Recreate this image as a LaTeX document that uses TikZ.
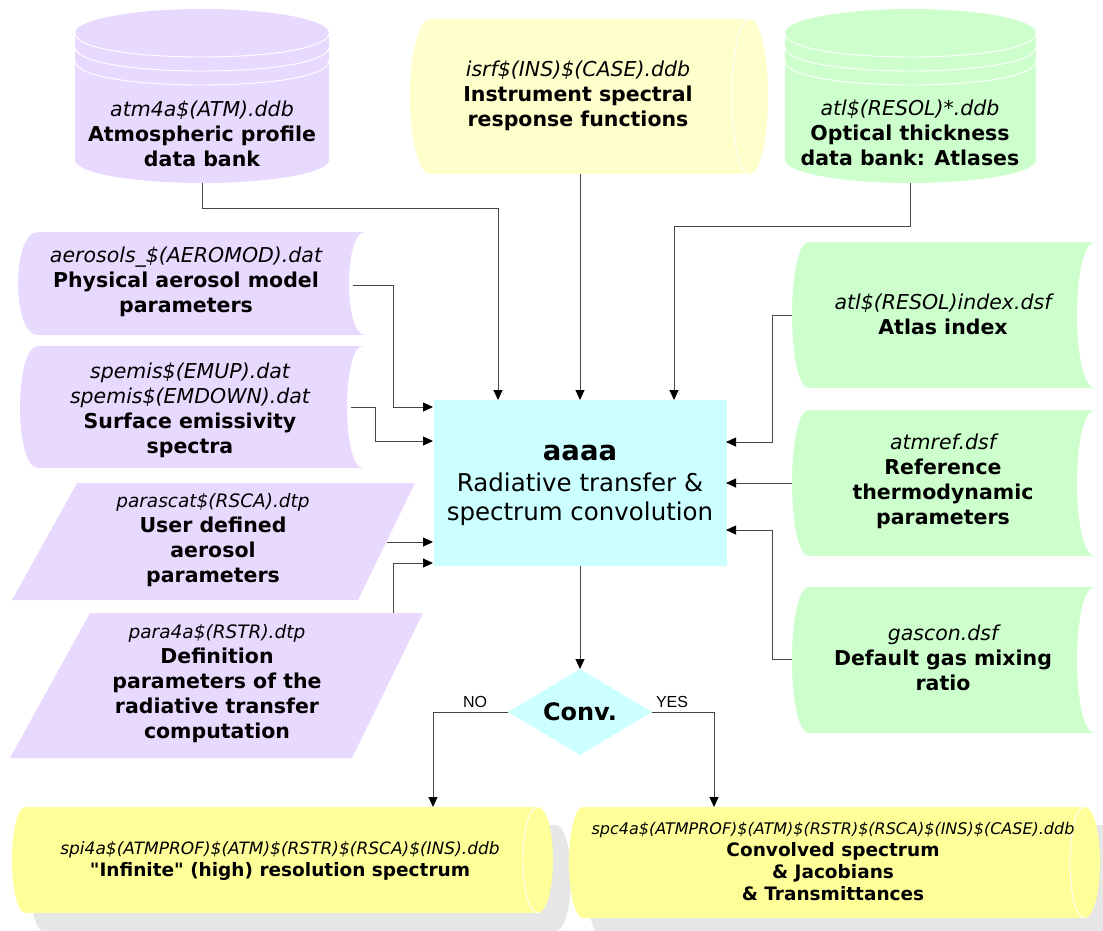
\documentclass[tikz,border=0pt]{standalone}
\usepackage{fontspec}
\setmainfont{DejaVu Sans}[Ligatures=TeXOff]
\newfontfamily\labelfont{Liberation Sans}
\usetikzlibrary{arrows.meta}
\definecolor{lav}{HTML}{E8DAFF}
\definecolor{mint}{HTML}{CCFFCC}
\definecolor{paleyel}{HTML}{FFFFCC}
\definecolor{yel}{HTML}{FFFF99}
\definecolor{cyanbox}{HTML}{CCFFFF}
\definecolor{shadowgray}{HTML}{E6E6E6}
% horizontal cylinder fill: color, xl, xr, ymid, ry, rxl, rxr
\newcommand\hcylfill[7]{%
  \fill[#1] (#2,#4) ellipse[x radius=#6,y radius=#5];
  \fill[#1] (#3,#4) ellipse[x radius=#7,y radius=#5];
  \fill[#1] (#2,#4-#5) rectangle (#3,#4+#5);}
% inner arc on the right end: xr, ymid, ry, rx
\newcommand\hcylline[4]{%
  \draw[cylline] (#1,#2-#3) .. controls ({#1-4/3*#4},#2-#3) and ({#1-4/3*#4},#2+#3) .. (#1,#2+#3);}
% vertical cylinder: color, x1, x2, ytop, ybot, rx
\newcommand\vcylfill[6]{%
  \fill[#1] (#2,#4) rectangle (#3,#5);
  \fill[#1] ({(#2+#3)/2},#4) ellipse[x radius=#6,y radius=24];
  \fill[#1] ({(#2+#3)/2},#5) ellipse[x radius=#6,y radius=23];
  \foreach \yy in {0,14,28}
    \draw[cylline] (#2,#4+\yy) .. controls (#2,#4+\yy+32) and (#3,#4+\yy+32) .. (#3,#4+\yy);}
% stored-data shape: color, xl(corner), xr(corner), ytop, ybot, rxl, rxr
\newcommand\storedfill[7]{%
  \fill[#1] (#2,#4) -- (#3,#4)
    .. controls ({#3-4/3*#7},#4) and ({#3-4/3*#7},#5) .. (#3,#5)
    -- (#2,#5)
    .. controls ({#2-4/3*#6},#5) and ({#2-4/3*#6},#4) .. (#2,#4) -- cycle;}
\newcommand\fileit[2]{{\fontsize{#1}{25}\selectfont\itshape #2}}
\newcommand\boldit[1]{{\fontsize{20.5}{25}\selectfont\bfseries #1}}
\begin{document}
\begin{tikzpicture}[x=1pt,y=-1pt,
  arr/.style={draw=black!72, line width=0.9pt, -{Triangle[length=10pt,width=9pt,color=black]}},
  txt/.style={align=center, inner sep=0pt, font=\fontsize{20.5}{25}\selectfont},
  cylline/.style={draw=white, line width=0.9pt}]
\useasboundingbox (0,0) rectangle (1103,930);

% ---------- shapes ----------
\vcylfill{lav}{75}{329}{33}{160}{127}
\vcylfill{mint}{785}{1036}{33}{160}{125.5}
\hcylfill{paleyel}{430}{750}{96.5}{77.5}{20}{18}
\hcylline{750}{96.5}{77.5}{18}

\storedfill{lav}{38}{365}{232}{335}{20}{16}
\storedfill{lav}{38}{363}{346}{468}{18}{16}
\fill[lav] (77,483) -- (415,483) -- (358,600) -- (12,600) -- cycle;
\fill[lav] (90,613) -- (423,613) -- (352,758) -- (10,758) -- cycle;

\storedfill{mint}{809}{1095}{242}{388}{17}{18}
\storedfill{mint}{809}{1095}{410}{556}{17}{18}
\storedfill{mint}{809}{1095}{587}{733}{17}{18}

\node[fill=cyanbox, minimum width=293pt, minimum height=166pt, inner sep=0pt] (core) at (580,483) {};

\coordinate (convN) at (580,669);
\coordinate (convE) at (652,712);
\coordinate (convS) at (580,755);
\coordinate (convW) at (508,712);
\fill[cyanbox] (convN) -- (convE) -- (convS) -- (convW) -- cycle;

\begin{scope}[shift={(18,18)}]
  \hcylfill{shadowgray}{25}{538}{860}{53}{13}{15}
  \hcylfill{shadowgray}{583}{1085}{862.5}{55.5}{14}{15}
\end{scope}
\hcylfill{yel}{25}{538}{860}{53}{13}{15}
\hcylline{538}{860}{53}{15}
\hcylfill{yel}{583}{1085}{862.5}{55.5}{14}{15}
\hcylline{1085}{862.5}{55.5}{15}

% ---------- texts ----------
\node[txt] (atm) at (202,134) {\fileit{20.5}{atm4a\$(ATM).ddb}\\\boldit{Atmospheric profile}\\\boldit{data bank}};
\node[txt] (isrf) at (578,96) {\fileit{20.5}{isrf\$(INS)\$(CASE).ddb}\\\boldit{Instrument spectral}\\\boldit{response functions}};
\node[txt] (atl) at (910,133) {\fileit{20.5}{atl\$(RESOL)*.ddb}\\\boldit{Optical thickness}\\\boldit{data bank: Atlases}};
\node[txt] (aer) at (186,282) {\fileit{20.5}{aerosols\_\$(AEROMOD).dat}\\\boldit{Physical aerosol model}\\\boldit{parameters}};
\node[txt] (spe) at (190,410) {\fileit{20.5}{spemis\$(EMUP).dat}\\\fileit{20.5}{spemis\$(EMDOWN).dat}\\\boldit{Surface emissivity}\\\boldit{spectra}};
\node[txt] (par) at (213,540) {\fileit{18.5}{parascat\$(RSCA).dtp}\\\boldit{User defined}\\\boldit{aerosol}\\\boldit{parameters}};
\node[txt] (p4a) at (217,684) {\fileit{18.5}{para4a\$(RSTR).dtp}\\\boldit{Definition}\\\boldit{parameters of the}\\\boldit{radiative transfer}\\\boldit{computation}};
\node[txt] (idx) at (943,314) {\fileit{20.5}{atl\$(RESOL)index.dsf}\\\boldit{Atlas index}};
\node[txt] (ref) at (943,481) {\fileit{20.5}{atmref.dsf}\\\boldit{Reference}\\\boldit{thermodynamic}\\\boldit{parameters}};
\node[txt] (gas) at (943,658) {\fileit{20.5}{gascon.dsf}\\\boldit{Default gas mixing}\\\boldit{ratio}};
\node[align=center, inner sep=0pt, font=\fontsize{24.5}{29}\selectfont] (coretext) at (580,485)
  {{\fontsize{27.5}{32}\selectfont\bfseries aaaa}\\[2pt]Radiative transfer \&\\spectrum convolution};
\node[inner sep=0pt, font=\fontsize{24}{28}\selectfont\bfseries] (conv) at (580,712) {Conv.};
\node[inner sep=0pt, font=\labelfont\fontsize{16}{18}\selectfont] (nolbl) at (475,702) {NO};
\node[inner sep=0pt, font=\labelfont\fontsize{16}{18}\selectfont] (yeslbl) at (672,702) {YES};
\node[align=center, inner sep=0pt, font=\fontsize{18.5}{22}\selectfont] (spi) at (280,861)
  {{\fontsize{17}{22}\selectfont\itshape spi4a\$(ATMPROF)\$(ATM)\$(RSTR)\$(RSCA)\$(INS).ddb}\\
   {\bfseries "Infinite" (high) resolution spectrum}};
\node[align=center, inner sep=0pt, font=\fontsize{18.5}{22}\selectfont] (spc) at (833,862)
  {{\fontsize{16}{22}\selectfont\itshape spc4a\$(ATMPROF)\$(ATM)\$(RSTR)\$(RSCA)\$(INS)\$(CASE).ddb}\\
   {\bfseries Convolved spectrum}\\
   {\bfseries \& Jacobians}\\
   {\bfseries \& Transmittances}};

% ---------- connection points ----------
\coordinate (atm-s) at (202,183);
\coordinate (isrf-s) at (580,174);
\coordinate (atl-s) at (910,183);
\coordinate (aer-e) at (353,285);
\coordinate (spe-e) at (351,407);
\coordinate (par-e) at (387,542);
\coordinate (p4a-n) at (393,613);
\coordinate (idx-w) at (792,315);
\coordinate (ref-w) at (792,483);
\coordinate (gas-w) at (792,659);
\coordinate (in1) at (498,400);
\coordinate (in2) at (580,400);
\coordinate (in3) at (674,400);
\coordinate (inL1) at (433,407);
\coordinate (inL2) at (433,441);
\coordinate (inL3) at (433,542);
\coordinate (inL4) at (433,563);
\coordinate (inR1) at (726,442);
\coordinate (inR2) at (726,483);
\coordinate (inR3) at (726,530);
\coordinate (spiN) at (433,807);
\coordinate (spcN) at (714,807);

% ---------- connectors ----------
\draw[arr] (atm-s) -- ++(0,25) -| (in1);
\draw[arr] (isrf-s) -- (in2);
\draw[arr] (atl-s) -- ++(0,43) -| (in3);
\draw[arr] (aer-e) -- ++(40,0) |- (inL1);
\draw[arr] (spe-e) -- ++(24,0) |- (inL2);
\draw[arr] (par-e) -- (inL3);
\draw[arr] (p4a-n) |- (inL4);
\draw[arr] (idx-w) -- ++(-20,0) |- (inR1);
\draw[arr] (ref-w) -- (inR2);
\draw[arr] (gas-w) -- ++(-20,0) |- (inR3);
\draw[arr] (core.south) -- (convN);
\draw[arr] (convW) -| (spiN);
\draw[arr] (convE) -| (spcN);
\end{tikzpicture}
\end{document}
